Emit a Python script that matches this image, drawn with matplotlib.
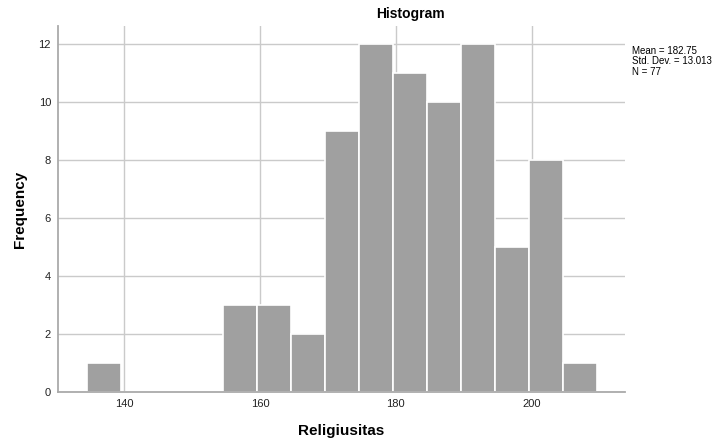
import matplotlib.pyplot as plt
import numpy as np

plt.rcParams['font.family'] = ['Liberation Sans', 'DejaVu Sans']

# histogram data
bin_start = 134.6
bin_width = 5.0
counts = [1, 0, 0, 0, 3, 3, 2, 9, 12, 11, 10, 12, 5, 8, 1]
stats_lines = ['Mean = 182.75', 'Std. Dev. = 13.013', 'N = 77']
x_ticks = [140, 160, 180, 200]
y_ticks = [0, 2, 4, 6, 8, 10, 12]

edges = bin_start + bin_width * np.arange(len(counts))

fig = plt.figure(figsize=(7.21, 4.41), dpi=100)
ax = fig.add_axes([58/721, 49/441, (625-58)/721, (392-26)/441])

ax.bar(edges, counts, width=bin_width, align='edge', color='#a0a0a0',
       edgecolor='white', linewidth=1.2, zorder=2)

ax.set_xlim(130.3, 213.7)
ax.set_ylim(0, 12.62)
ax.set_xticks(x_ticks)
ax.set_yticks(y_ticks)
ax.grid(True, color='#cacaca', linewidth=1, zorder=0)
ax.set_axisbelow(True)
ax.tick_params(length=0, labelsize=8, colors='#222222', pad=5)

for s in ['top', 'right']:
    ax.spines[s].set_visible(False)
for s in ['left', 'bottom']:
    ax.spines[s].set_color('#aaaaaa')
    ax.spines[s].set_linewidth(1.3)

ax.set_xlabel('Religiusitas', fontsize=11, fontweight='bold', labelpad=11)
ax.set_ylabel('Frequency', fontsize=11, fontweight='bold', labelpad=8)
fig.text(410/721, 1 - 14/441, 'Histogram', ha='center', va='center',
         fontsize=10, fontweight='bold')
fig.text(632/721, 1 - 46/441, '\n'.join(stats_lines), ha='left', va='top',
         fontsize=7, linespacing=1.05)

fig.savefig('out.png', dpi=100)
